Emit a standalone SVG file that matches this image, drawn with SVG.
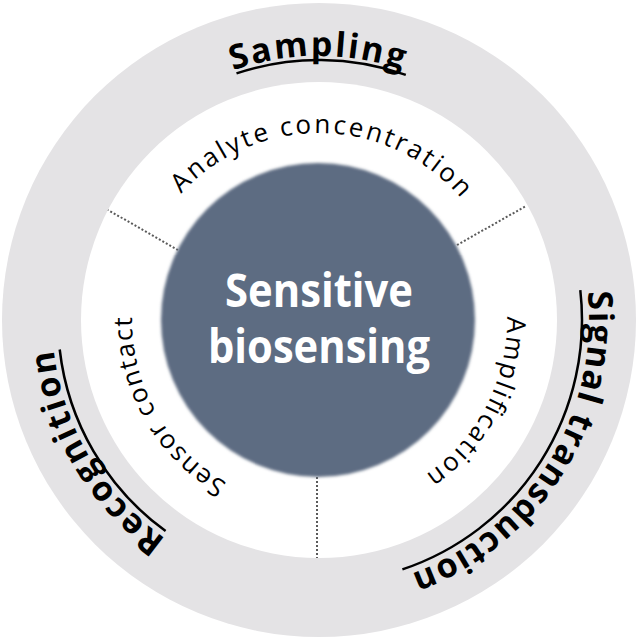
<svg xmlns="http://www.w3.org/2000/svg" xmlns:xlink="http://www.w3.org/1999/xlink" width="640" height="641" viewBox="0 0 640 641">
<style>
.outer{font-family:"Open Sans","Liberation Sans",sans-serif;font-weight:700;font-size:34px;fill:#000}
.inner{font-family:"Open Sans","Liberation Sans",sans-serif;font-weight:400;font-size:26px;fill:#000}
.center{font-family:"Open Sans","Liberation Sans",sans-serif;font-weight:700;font-size:46px;fill:#fff;text-anchor:middle}
.uline{fill:none;stroke:#000;stroke-width:2.5}
.dots{stroke:#5a5a5a;stroke-width:2;stroke-dasharray:2 2;fill:none}
</style>
<defs>
<filter id="soft" x="-10%" y="-10%" width="120%" height="120%"><feGaussianBlur stdDeviation="1.6"/></filter>
<path id="pSampling" d="M233.0,70.4 A264,264 0 0 1 405.0,70.4"/>
<path id="pSignal" d="M587.5,291.8 A270,270 0 0 1 409.1,574.5"/>
<path id="pRecog" d="M165.9,538.7 A267,267 0 0 1 53.5,347.9"/>
<path id="pAnalyte" d="M181.1,193.7 A187,187 0 0 1 462.2,199.8"/>
<path id="pAmpl" d="M507.0,316.7 A188,188 0 0 1 424.1,475.9"/>
<path id="pSensor" d="M226.9,482.8 A187,187 0 0 1 132.1,315.1"/>
</defs>
<g id="ring">
<circle cx="319" cy="320" r="317" fill="#e4e3e5"/>
<circle cx="319" cy="320" r="238" fill="#ffffff"/>
</g>
<g id="connectors">
<line class="dots" x1="457" y1="245" x2="526" y2="206"/>
<line class="dots" x1="178" y1="250" x2="108" y2="210"/>
<line class="dots" x1="317" y1="477" x2="317" y2="558"/>
</g>
<g id="center-node">
<circle cx="318" cy="320" r="157" fill="#5d6c82" filter="url(#soft)"/>
<text class="center" x="319" y="307" textLength="188" lengthAdjust="spacingAndGlyphs">Sensitive</text>
<text class="center" x="319" y="363" textLength="222" lengthAdjust="spacingAndGlyphs">biosensing</text>
</g>
<g id="sampling">
<text class="outer"><textPath xlink:href="#pSampling" href="#pSampling" textLength="172" lengthAdjust="spacing">Sampling</textPath></text>
<path class="uline" d="M236.5,73.4 A260,260 0 0 1 405.8,74.9"/>
</g>
<g id="signal-transduction">
<text class="outer"><textPath xlink:href="#pSignal" href="#pSignal" textLength="358" lengthAdjust="spacing">Signal transduction</textPath></text>
<path class="uline" d="M580.3,290.2 A263,263 0 0 1 402.4,569.4"/>
</g>
<g id="recognition">
<text class="outer"><textPath xlink:href="#pRecog" href="#pRecog" textLength="226" lengthAdjust="spacing">Recognition</textPath></text>
<path class="uline" d="M165.6,531.1 A261,261 0 0 1 59.7,349.5"/>
</g>
<g id="analyte-concentration">
<text class="inner"><textPath xlink:href="#pAnalyte" href="#pAnalyte" textLength="316" lengthAdjust="spacing">Analyte concentration</textPath></text>
</g>
<g id="amplification">
<text class="inner"><textPath xlink:href="#pAmpl" href="#pAmpl" textLength="185" lengthAdjust="spacing">Amplification</textPath></text>
</g>
<g id="sensor-contact">
<text class="inner"><textPath xlink:href="#pSensor" href="#pSensor" textLength="200" lengthAdjust="spacing">Sensor contact</textPath></text>
</g>
</svg>
